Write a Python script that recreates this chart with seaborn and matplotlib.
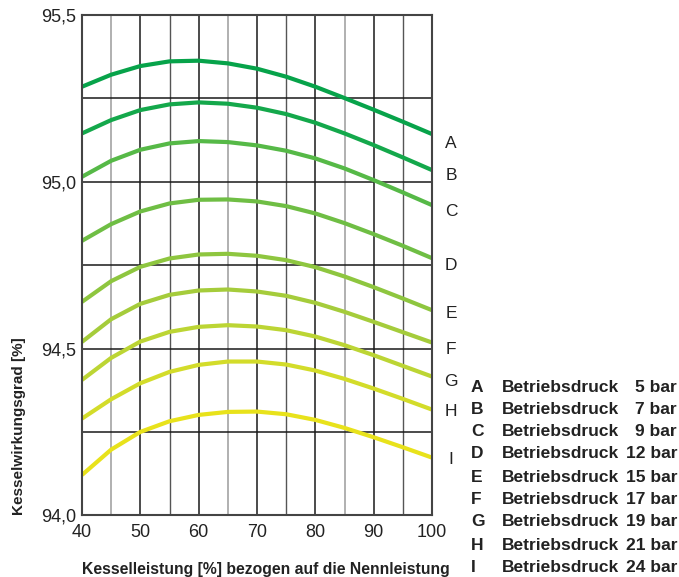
import matplotlib
matplotlib.use("Agg")
import matplotlib.pyplot as plt
import seaborn as sns
import pandas as pd

load = [40, 45, 50, 55, 60, 65, 70, 75, 80, 85, 90, 95, 100]
curve_ids = ["A", "B", "C", "D", "E", "F", "G", "H", "I"]
pressures = ["5", "7", "9", "12", "15", "17", "19", "21", "24"]

eff_A = [95.285, 95.321, 95.347, 95.361, 95.363, 95.355, 95.339, 95.315, 95.285, 95.251, 95.216, 95.180, 95.143]
eff_B = [95.145, 95.185, 95.215, 95.232, 95.238, 95.234, 95.222, 95.203, 95.177, 95.145, 95.110, 95.073, 95.035]
eff_C = [95.015, 95.063, 95.096, 95.115, 95.122, 95.119, 95.109, 95.093, 95.070, 95.040, 95.005, 94.968, 94.930]
eff_D = [94.823, 94.873, 94.911, 94.935, 94.946, 94.947, 94.941, 94.927, 94.905, 94.876, 94.843, 94.808, 94.771]
eff_E = [94.640, 94.702, 94.745, 94.770, 94.782, 94.784, 94.778, 94.765, 94.744, 94.716, 94.684, 94.650, 94.615]
eff_F = [94.520, 94.588, 94.634, 94.661, 94.674, 94.677, 94.671, 94.658, 94.637, 94.610, 94.580, 94.549, 94.518]
eff_G = [94.406, 94.472, 94.521, 94.550, 94.565, 94.570, 94.566, 94.555, 94.536, 94.510, 94.480, 94.448, 94.416]
eff_H = [94.290, 94.348, 94.396, 94.430, 94.451, 94.461, 94.461, 94.452, 94.434, 94.409, 94.380, 94.349, 94.317]
eff_I = [94.121, 94.197, 94.250, 94.282, 94.301, 94.310, 94.311, 94.303, 94.286, 94.262, 94.234, 94.204, 94.173]

colors = ["#07a34a", "#14a84b", "#56b947", "#6fbe44", "#8ec63f", "#a5cc3b", "#bcd534", "#d3dc2a", "#e8e21b"]

x_ticks = [40, 50, 60, 70, 80, 90, 100]
x_ticklabels = ["40", "50", "60", "70", "80", "90", "100"]
y_ticks = [94.0, 94.5, 95.0, 95.5]
y_ticklabels = ["94,0", "94,5", "95,0", "95,5"]
x_label = "Kesselleistung [%] bezogen auf die Nennleistung"
y_label = "Kesselwirkungsgrad [%]"
legend_word = "Betriebsdruck"

series = [eff_A, eff_B, eff_C, eff_D, eff_E, eff_F, eff_G, eff_H, eff_I]
rows = []
for cid, vals in zip(curve_ids, series):
    for xv, yv in zip(load, vals):
        rows.append({"load": xv, "eff": yv, "curve": cid})
df = pd.DataFrame(rows)

sns.set_theme(style="white")
plt.rcParams["font.family"] = ["Liberation Sans", "DejaVu Sans"]

fig = plt.figure(figsize=(6.79, 5.77), dpi=100)
ax = fig.add_axes([82 / 679, 1 - 515.3 / 577, 350 / 679, 500.3 / 577])

# grid
for xv in range(45, 100, 5):
    if xv % 10 == 0:
        ax.axvline(xv, color="#1a1a1a", lw=1.1, zorder=1)
    elif xv in (45, 65, 85):
        ax.axvline(xv, color="#b0b0b0", lw=1.4, zorder=1)
    else:
        ax.axvline(xv, color="#555555", lw=1.0, zorder=1)
for yv in [94.25, 94.5, 94.75, 95.0, 95.25]:
    ax.axhline(yv, color="#1a1a1a", lw=1.1, zorder=1)

sns.lineplot(data=df, x="load", y="eff", hue="curve", palette=colors,
             hue_order=curve_ids, lw=3.0, legend=False, ax=ax, zorder=3)
for ln in ax.lines:
    ln.set_solid_joinstyle("round")
    ln.set_solid_capstyle("butt")

ax.set_xlim(40, 100)
ax.set_ylim(94.0, 95.5)
ax.set_xticks(x_ticks)
ax.set_xticklabels(x_ticklabels, fontsize=13, color="#222222")
ax.set_yticks(y_ticks)
ax.set_yticklabels(y_ticklabels, fontsize=13, color="#222222")
ax.tick_params(axis="x", length=0, pad=6)
ax.tick_params(axis="y", length=0, pad=4)
ax.set_xlabel(x_label, fontsize=11.3, fontweight="bold", color="#222222")
ax.set_ylabel(y_label, fontsize=11, fontweight="bold", color="#222222")
ax.xaxis.set_label_coords(1.05, -0.093, transform=ax.transAxes)
ax.xaxis.label.set_horizontalalignment("right")
ax.yaxis.set_label_coords(-0.16, 0.0)
ax.yaxis.label.set_horizontalalignment("left")
for s in ax.spines.values():
    s.set_color("#444444")
    s.set_linewidth(1.5)
    s.set_zorder(4)

# curve letters at the right edge
letter_y = [143, 176, 212, 265, 313, 350, 381, 411, 459]
for cid, py in zip(curve_ids, letter_y):
    fig.text(451 / 679, 1 - py / 577, cid, fontsize=12.5, color="#222222",
             ha="center", va="center")

# legend block
legend_y = [387, 410, 432, 454, 477, 499, 522, 545, 567]
for cid, pr, py in zip(curve_ids, pressures, legend_y):
    yy = 1 - py / 577
    fig.text(471 / 679, yy, cid, fontsize=12.5, fontweight="bold", color="#222222",
             ha="left", va="center")
    fig.text(502 / 679, yy, legend_word, fontsize=12.5, fontweight="bold", color="#222222",
             ha="left", va="center")
    fig.text(677 / 679, yy, f"{pr} bar", fontsize=12.5, fontweight="bold", color="#222222",
             ha="right", va="center")

fig.savefig("out.png", dpi=100)
